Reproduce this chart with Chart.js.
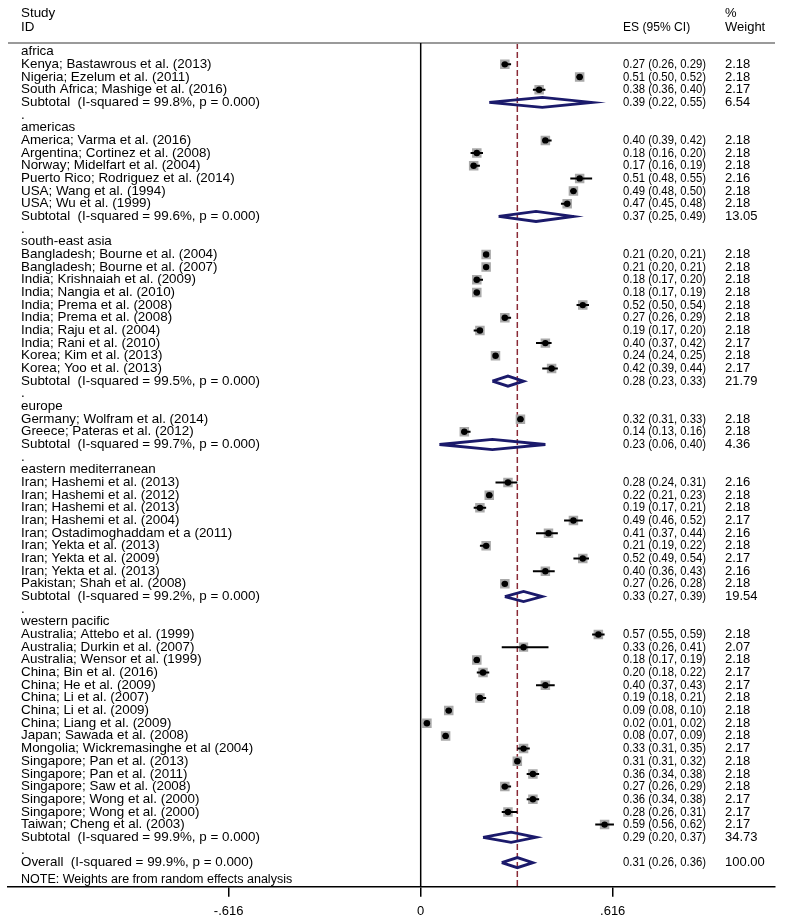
<!DOCTYPE html>
<html><head><meta charset="utf-8">
<script src="https://cdn.jsdelivr.net/npm/chart.js@4.4.1/dist/chart.umd.min.js"></script>
<style>html,body{margin:0;padding:0;background:#fff;overflow:hidden}#wrap{width:786px;height:930px}</style>
</head><body><div id="wrap"><canvas id="c" width="786" height="930"></canvas></div>
<script>
// ---------- data ----------
const groupNames = ['africa','americas','south-east asia','europe','eastern mediterranean','western pacific'];
const groupSizes = [3, 6, 10, 2, 9, 16];
const groupI2 = [99.8, 99.6, 99.5, 99.7, 99.2, 99.9];
const subES = [0.39, 0.37, 0.28, 0.23, 0.33, 0.29];
const subLow = [0.22, 0.25, 0.23, 0.06, 0.27, 0.20];
const subHigh = [0.55, 0.49, 0.33, 0.40, 0.39, 0.37];
const subWeight = [6.54, 13.05, 21.79, 4.36, 19.54, 34.73];

const studyLabels = [
'Kenya; Bastawrous et al. (2013)','Nigeria; Ezelum et al. (2011)','South Africa; Mashige et al. (2016)',
'America; Varma et al. (2016)','Argentina; Cortinez et al. (2008)','Norway; Midelfart et al. (2004)',
'Puerto Rico; Rodriguez et al. (2014)','USA; Wang et al. (1994)','USA; Wu et al. (1999)',
'Bangladesh; Bourne et al. (2004)','Bangladesh; Bourne et al. (2007)','India; Krishnaiah et al. (2009)',
'India; Nangia et al. (2010)','India; Prema et al. (2008)','India; Prema et al. (2008)',
'India; Raju et al. (2004)','India; Rani et al. (2010)','Korea; Kim et al. (2013)','Korea; Yoo et al. (2013)',
'Germany; Wolfram et al. (2014)','Greece; Pateras et al. (2012)',
'Iran; Hashemi et al. (2013)','Iran; Hashemi et al. (2012)','Iran; Hashemi et al. (2013)','Iran; Hashemi et al. (2004)',
'Iran; Ostadimoghaddam et a (2011)','Iran; Yekta et al. (2013)','Iran; Yekta et al. (2009)','Iran; Yekta et al. (2013)',
'Pakistan; Shah et al. (2008)',
'Australia; Attebo et al. (1999)','Australia; Durkin et al. (2007)','Australia; Wensor et al. (1999)',
'China; Bin et al. (2016)','China; He et al. (2009)','China; Li et al. (2007)','China; Li et al. (2009)',
'China; Liang et al. (2009)','Japan; Sawada et al. (2008)','Mongolia; Wickremasinghe et al (2004)',
'Singapore; Pan et al. (2013)','Singapore; Pan et al. (2011)','Singapore; Saw et al. (2008)',
'Singapore; Wong et al. (2000)','Singapore; Wong et al. (2000)','Taiwan; Cheng et al. (2003)'
];
const studyES = [0.27,0.51,0.38, 0.40,0.18,0.17,0.51,0.49,0.47, 0.21,0.21,0.18,0.18,0.52,0.27,0.19,0.40,0.24,0.42, 0.32,0.14, 0.28,0.22,0.19,0.49,0.41,0.21,0.52,0.40,0.27, 0.57,0.33,0.18,0.20,0.40,0.19,0.09,0.02,0.08,0.33,0.31,0.36,0.27,0.36,0.28,0.59];
const studyLow = [0.26,0.50,0.36, 0.39,0.16,0.16,0.48,0.48,0.45, 0.20,0.20,0.17,0.17,0.50,0.26,0.17,0.37,0.24,0.39, 0.31,0.13, 0.24,0.21,0.17,0.46,0.37,0.19,0.49,0.36,0.26, 0.55,0.26,0.17,0.18,0.37,0.18,0.08,0.01,0.07,0.31,0.31,0.34,0.26,0.34,0.26,0.56];
const studyHigh = [0.29,0.52,0.40, 0.42,0.20,0.19,0.55,0.50,0.48, 0.21,0.21,0.20,0.19,0.54,0.29,0.20,0.42,0.25,0.44, 0.33,0.16, 0.31,0.23,0.21,0.52,0.44,0.22,0.54,0.43,0.28, 0.59,0.41,0.19,0.22,0.43,0.21,0.10,0.02,0.09,0.35,0.32,0.38,0.29,0.38,0.31,0.62];
const studyWeight = [2.18,2.18,2.17, 2.18,2.18,2.18,2.16,2.18,2.18, 2.18,2.18,2.18,2.18,2.18,2.18,2.18,2.17,2.18,2.17, 2.18,2.18, 2.16,2.18,2.18,2.17,2.16,2.18,2.17,2.16,2.18, 2.18,2.07,2.18,2.17,2.17,2.18,2.18,2.18,2.18,2.17,2.18,2.18,2.18,2.17,2.17,2.17];

const overallES = 0.31, overallLow = 0.26, overallHigh = 0.36, overallWeight = 100.00, overallI2 = 99.9;

const tickValues = [-0.616, 0, 0.616];
const tickLabels = ['-.616', '0', '.616'];

// ---------- layout (rows) ----------
const X_MIN = -1.324, X_MAX = 1.1367;
const Y_MIN = -4.08, Y_MAX = 65.9;
const HEADER_LINE = -0.69;

const textRows = [];
const studyRow = [];
const subRow = [];
let r = 0, s = 0;
groupNames.forEach((g, gi) => {
  textRows.push({row: r, text: g}); r++;
  for (let k = 0; k < groupSizes[gi]; k++, s++) {
    studyRow.push(r);
    textRows.push({row: r, text: studyLabels[s], es: studyES[s], lo: studyLow[s], hi: studyHigh[s], w: studyWeight[s]});
    r++;
  }
  subRow.push(r);
  textRows.push({row: r, text: 'Subtotal  (I-squared = ' + groupI2[gi].toFixed(1) + '%, p = 0.000)', es: subES[gi], lo: subLow[gi], hi: subHigh[gi], w: subWeight[gi]});
  r++;
  textRows.push({row: r, text: '.'}); r++;
});
const overallRow = r;
textRows.push({row: overallRow, text: 'Overall  (I-squared = ' + overallI2.toFixed(1) + '%, p = 0.000)', es: overallES, lo: overallLow, hi: overallHigh, w: overallWeight});

// ---------- datasets ----------
const dots = studyES.map((v, i) => ({x: v, y: studyRow[i]}));
const ciLines = [];
studyES.forEach((v, i) => { ciLines.push({x: studyLow[i], y: studyRow[i]}, {x: studyHigh[i], y: studyRow[i]}, {x: null, y: null}); });
const boxRadius = studyWeight.map(w => 9.5 * Math.sqrt(w / 2.18) / Math.SQRT2);
const DH = 0.4;
const diamonds = [];
function addDiamond(es, lo, hi, row) {
  diamonds.push({x: lo, y: row}, {x: es, y: row - DH}, {x: hi, y: row}, {x: es, y: row + DH}, {x: lo, y: row}, {x: null, y: null});
}
subES.forEach((v, i) => addDiamond(v, subLow[i], subHigh[i], subRow[i]));
addDiamond(overallES, overallLow, overallHigh, overallRow);

const FONT = '"Liberation Sans", Arial, sans-serif';
function txt(ctx, t, x, y, sx, size) {
  ctx.save(); ctx.translate(x, y); ctx.scale(sx, 1);
  ctx.font = size + 'px ' + FONT; ctx.fillText(t, 0, 0); ctx.restore();
}
const textPlugin = {
  id: 'forestText',
  afterDraw(chart) {
    const ctx = chart.ctx, ys = chart.scales.y;
    ctx.save();
    ctx.fillStyle = '#000'; ctx.textBaseline = 'middle'; ctx.textAlign = 'left';
    const LX = 21, ESX = 623, WX = 725;
    txt(ctx, 'Study', LX, ys.getPixelForValue(-3.06), 1.03, 13);
    txt(ctx, 'ID', LX, ys.getPixelForValue(-1.95), 1.03, 13);
    txt(ctx, 'ES (95% CI)', ESX, ys.getPixelForValue(-1.95), 0.93, 13);
    txt(ctx, '%', WX, ys.getPixelForValue(-3.06), 1.0, 13);
    txt(ctx, 'Weight', WX, ys.getPixelForValue(-1.95), 1.0, 13);
    textRows.forEach(t => {
      const py = ys.getPixelForValue(t.row);
      txt(ctx, t.text, LX, py, 1.03, 13);
      if (t.es !== undefined) {
        txt(ctx, t.es.toFixed(2) + ' (' + t.lo.toFixed(2) + ', ' + t.hi.toFixed(2) + ')', ESX, py, 0.87, 13);
        txt(ctx, t.w.toFixed(2), WX, py, 1.0, 13);
      }
    });
    txt(ctx, 'NOTE: Weights are from random effects analysis', LX, ys.getPixelForValue(overallRow + 1.35), 1.0, 12.5);
    ctx.restore();
  }
};

new Chart(document.getElementById('c'), {
  type: 'scatter',
  data: {
    datasets: [
      {data: dots, pointStyle: 'circle', pointRadius: 3.2, backgroundColor: '#000', borderWidth: 0, order: 0},
      {data: ciLines, showLine: true, spanGaps: false, pointRadius: 0, borderColor: '#000', borderWidth: 2, order: 1},
      {data: dots, pointStyle: 'rect', pointRadius: boxRadius, backgroundColor: '#a9a9a9', borderWidth: 0, order: 2},
      {data: diamonds, showLine: true, spanGaps: false, pointRadius: 0, borderColor: '#1b1a6b', borderWidth: 2.8, borderJoinStyle: 'miter', order: 3},
      {data: [{x: X_MIN, y: HEADER_LINE}, {x: X_MAX, y: HEADER_LINE}], showLine: true, pointRadius: 0, borderColor: '#9a9a9a', borderWidth: 2, order: 6},
      {data: [{x: 0, y: HEADER_LINE}, {x: 0, y: Y_MAX}], showLine: true, pointRadius: 0, borderColor: '#000', borderWidth: 1.5, order: 5},
      {data: [{x: overallES, y: HEADER_LINE}, {x: overallES, y: Y_MAX}], showLine: true, pointRadius: 0, borderColor: '#8a2a36', borderWidth: 1.5, borderDash: [6, 3], order: 7}
    ]
  },
  options: {
    responsive: false, animation: false, events: [],
    layout: {autoPadding: false, padding: {left: 8, right: 11, top: 0, bottom: 3.3}},
    plugins: {legend: {display: false}, tooltip: {enabled: false}},
    scales: {
      x: {
        type: 'linear', min: X_MIN, max: X_MAX, position: 'bottom',
        afterBuildTicks: (sc) => { sc.ticks = tickValues.map(v => ({value: v})); },
        ticks: {autoSkip: false, maxRotation: 0, padding: 7.2, color: '#000', font: {family: FONT, size: 13},
          callback: (v, i) => tickLabels[i]},
        grid: {drawOnChartArea: false, drawTicks: true, tickLength: 10, color: '#000', lineWidth: 1.5},
        border: {display: true, color: '#000', width: 1.5}
      },
      y: {type: 'linear', display: false, reverse: true, min: Y_MIN, max: Y_MAX}
    }
  },
  plugins: [textPlugin]
});
</script></body></html>
